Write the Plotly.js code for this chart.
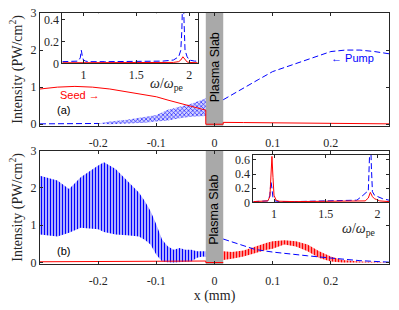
<!DOCTYPE html>
<html><head><meta charset="utf-8">
<script src="https://cdn.plot.ly/plotly-3.0.1.min.js"></script>
<style>html,body{margin:0;padding:0;background:#fff}#chart{width:399px;height:310px}</style>
</head><body><div id="chart"></div>
<script>
// ---------- panel (a) ----------
var seedA_x = [-0.3,-0.27,-0.24,-0.21,-0.18,-0.15,-0.12,-0.1,-0.08,-0.06,-0.04,-0.02,-0.015,-0.015,0.015,0.015,0.05,0.1,0.15,0.2,0.25,0.3];
var seedA_y = [0.95,1.0,1.02,1.0,0.95,0.87,0.8,0.74,0.65,0.56,0.47,0.4,0.38,0,0,0.05,0.045,0.035,0.03,0.02,0.015,0.01];
var pumpA_left_x = [-0.3,-0.25,-0.2];
var pumpA_left_y = [0.01,0.01,0.02];
var pumpA_right_x = [0.015,0.03,0.05,0.075,0.1,0.125,0.15,0.175,0.2,0.225,0.25,0.275,0.3];
var pumpA_right_y = [0.66,0.8,0.98,1.2,1.42,1.56,1.7,1.84,1.96,2.0,2.0,1.96,1.9];
var bandA_x  = [-0.2,-0.18,-0.15,-0.12,-0.1,-0.08,-0.06,-0.04,-0.02,-0.015];
var bandA_hi = [0.02,0.07,0.12,0.2,0.25,0.39,0.48,0.55,0.67,0.7];
var bandA_lo = [0.01,0.0,0.02,0.04,0.07,0.1,0.16,0.2,0.22,0.22];
// inset (a) spectrum
var specA_blue_x = [0.8,0.9,0.95,0.97,0.98,0.99,1.0,1.02,1.05,1.2,1.4,1.6,1.75,1.85,1.9,1.92,1.93,1.94,1.95,1.96,1.98,2.0,2.05,2.08];
var specA_blue_y = [0.015,0.015,0.02,0.05,0.12,0.06,0.03,0.02,0.015,0.015,0.015,0.015,0.02,0.03,0.06,0.12,0.3,0.7,0.35,0.12,0.06,0.03,0.02,0.02];
var specA_red_x = [0.8,1.2,1.6,1.85,1.9,1.92,1.94,1.96,1.98,2.0,2.08];
var specA_red_y = [0.005,0.005,0.005,0.008,0.015,0.03,0.06,0.03,0.012,0.008,0.005];

// ---------- panel (b) ----------
var seedB_left_x = [-0.3,-0.2,-0.1,-0.05,-0.015,-0.015,0.015];
var seedB_left_y = [0.02,0.02,0.02,0.03,0.04,0,0];
var bandBred_x  = [0.015,0.03,0.05,0.07,0.09,0.1,0.12,0.14,0.16,0.18,0.2,0.22,0.25,0.3];
var bandBred_hi = [0.3,0.28,0.32,0.43,0.53,0.57,0.6,0.57,0.48,0.3,0.16,0.07,0.03,0.01];
var bandBred_lo = [0.07,0.1,0.16,0.25,0.34,0.37,0.48,0.43,0.3,0.12,0.03,0.0,0.0,0.0];
var bandBblue_x  = [-0.3,-0.27,-0.25,-0.23,-0.2,-0.19,-0.17,-0.15,-0.13,-0.12,-0.11,-0.1,-0.09,-0.08,-0.07,-0.06,-0.05,-0.04,-0.03,-0.02,-0.015];
var bandBblue_hi = [2.33,2.2,1.97,2.29,2.6,2.69,2.51,2.2,1.88,1.65,1.38,1.02,0.61,0.43,0.34,0.39,0.34,0.34,0.3,0.3,0.3];
var bandBblue_lo = [0.75,0.7,0.8,0.93,0.89,0.82,0.75,0.73,0.7,0.61,0.48,0.21,0.03,0.01,0.0,0.0,0.02,0.03,0.13,0.16,0.15];
var pumpB_right_x = [0.015,0.03,0.05,0.07,0.1,0.13,0.16,0.2,0.25,0.3];
var pumpB_right_y = [0.63,0.55,0.45,0.35,0.28,0.24,0.18,0.12,0.05,0.01];
// inset (b) spectrum
var specB_red_x = [0.8,0.9,0.94,0.96,0.97,0.98,0.99,1.0,1.02,1.05,1.2,1.5,1.8,1.88,1.91,1.93,1.95,1.97,1.99,2.02,2.11];
var specB_red_y = [0.01,0.01,0.02,0.08,0.3,0.65,0.35,0.1,0.03,0.015,0.01,0.01,0.01,0.02,0.06,0.14,0.08,0.05,0.04,0.02,0.01];
var specB_blue_x = [0.8,0.9,0.94,0.96,0.97,0.98,0.99,1.01,1.05,1.2,1.5,1.7,1.8,1.86,1.89,1.91,1.92,1.93,1.94,1.95,1.97,2.0,2.05,2.11];
var specB_blue_y = [0.01,0.01,0.02,0.1,0.3,0.2,0.06,0.02,0.01,0.01,0.015,0.02,0.03,0.1,0.14,0.15,0.5,1.0,0.5,0.15,0.1,0.08,0.05,0.03];

var xTicks = [-0.2,-0.1,0,0.1,0.2];
var xTickText = ['-0.2','-0.1','0','0.1','0.2'];
var yTicks = [0,1,2,3];
var insetXTicks = [1,1.5,2];
var insetAYTicks = [0,0.2,0.4];
var insetBYTicks = [0,0.2,0.4,0.6];

var RED = '#ff0000', BLUE = '#0000ff';
var DASH = '6px,3px';
function band(x, hi, lo, xa, ya, fg, bg, shape, size, sol) {
  return {x: x.concat(x.slice().reverse()), y: hi.concat(lo.slice().reverse()),
    xaxis: xa, yaxis: ya, type: 'scatter', mode: 'lines', fill: 'toself',
    line: {width: 0, color: fg}, fillcolor: bg,
    fillpattern: {shape: shape, fgcolor: fg, bgcolor: bg, size: size, solidity: sol},
    hoverinfo: 'skip', showlegend: false};
}
function line(x, y, xa, ya, color, dash) {
  return {x: x, y: y, xaxis: xa, yaxis: ya, type: 'scatter', mode: 'lines',
    line: {color: color, width: 1, dash: dash || 'solid'}, showlegend: false};
}

var data = [
  band(bandA_x, bandA_hi, bandA_lo, 'x', 'y', '#0000ff', 'rgba(130,130,255,0.35)', 'x', 3, 0.35),
  line(pumpA_left_x, pumpA_left_y, 'x', 'y', BLUE, DASH),
  line(pumpA_right_x, pumpA_right_y, 'x', 'y', BLUE, DASH),
  line(seedA_x, seedA_y, 'x', 'y', RED),
  line(specA_blue_x, specA_blue_y, 'x3', 'y3', BLUE, DASH),
  line(specA_red_x, specA_red_y, 'x3', 'y3', RED),

  band(bandBblue_x, bandBblue_hi, bandBblue_lo, 'x2', 'y2', '#0000ff', 'rgba(140,140,255,0.4)', '|', 3, 0.45),
  band(bandBred_x, bandBred_hi, bandBred_lo, 'x2', 'y2', '#ff0000', 'rgba(255,120,120,0.5)', '|', 3, 0.5),
  line(seedB_left_x, seedB_left_y, 'x2', 'y2', RED),
  line(pumpB_right_x, pumpB_right_y, 'x2', 'y2', BLUE, DASH),
  line(specB_blue_x, specB_blue_y, 'x4', 'y4', BLUE, DASH),
  line(specB_red_x, specB_red_y, 'x4', 'y4', RED),
  // empty traces that just register the inside-tick overlay axes
  {x: [], y: [], xaxis: 'x5', yaxis: 'y', type: 'scatter', mode: 'lines', showlegend: false},
  {x: [], y: [], xaxis: 'x6', yaxis: 'y2', type: 'scatter', mode: 'lines', showlegend: false}
];

var serif = '"Liberation Serif", "Times New Roman", serif';
var sans = '"Liberation Sans", Arial, sans-serif';
var INK = '#262626';
var axBase = {showline: true, linecolor: INK, linewidth: 1, mirror: 'ticks',
  ticks: 'inside', ticklen: 3, tickcolor: INK, showgrid: false, zeroline: false,
  tickfont: {family: serif, size: 12, color: INK}, fixedrange: true};
function ax(o) { return Object.assign({}, axBase, o); }
var ytitle = {text: 'Intensity (PW/cm<sup>2</sup>)', font: {family: serif, size: 14, color: INK}, standoff: 4};
// main x axes: labels pushed down by transparent outside ticks; inside ticks come from overlays
function mainX(o) {
  return ax(Object.assign({ticks: 'outside', ticklen: 6, tickcolor: 'rgba(0,0,0,0)', mirror: true,
    range: [-0.3, 0.3], tickvals: xTicks, ticktext: xTickText}, o));
}
function tickX(o) {
  return ax(Object.assign({range: [-0.3, 0.3], tickvals: xTicks, showticklabels: false}, o));
}

var layout = {
  width: 399, height: 310,
  margin: {l: 40, r: 10, t: 13, b: 46},
  paper_bgcolor: '#fff', plot_bgcolor: '#fff', showlegend: false,
  xaxis: mainX({domain: [0, 1], anchor: 'y'}),
  xaxis5: tickX({overlaying: 'x', anchor: 'y'}),
  yaxis: ax({domain: [0.551, 1], anchor: 'x', range: [-0.04, 3], tickvals: yTicks, title: ytitle}),
  xaxis2: mainX({domain: [0, 1], anchor: 'y2',
    title: {text: 'x (mm)', font: {family: serif, size: 14, color: INK}, standoff: 2}}),
  xaxis6: tickX({overlaying: 'x2', anchor: 'y2'}),
  yaxis2: ax({domain: [0, 0.4514], anchor: 'x2', range: [-0.04, 3], tickvals: yTicks, title: ytitle}),
  xaxis3: ax({domain: [0.0639, 0.4519], anchor: 'y3', range: [0.8, 2.08], tickvals: insetXTicks}),
  yaxis3: ax({domain: [0.7996, 0.999], anchor: 'x3', range: [0, 0.46], tickvals: insetAYTicks}),
  xaxis4: ax({domain: [0.6112, 1], anchor: 'y4', range: [0.8, 2.11], tickvals: insetXTicks}),
  yaxis4: ax({domain: [0.2458, 0.4343], anchor: 'x4', range: [0, 0.67], tickvals: insetBYTicks}),
  shapes: [
    {type: 'rect', xref: 'x', yref: 'y domain', x0: -0.015, x1: 0.015, y0: 0, y1: 1, fillcolor: '#a9a9a9', line: {width: 0}, layer: 'below'},
    {type: 'rect', xref: 'x2', yref: 'y2 domain', x0: -0.015, x1: 0.015, y0: 0, y1: 1, fillcolor: '#a9a9a9', line: {width: 0}, layer: 'below'}
  ],
  annotations: [
    {xref: 'x', yref: 'y', x: 0, y: 1.52, text: 'Plasma Slab', textangle: -90, showarrow: false, font: {family: sans, size: 12.5, color: '#000'}},
    {xref: 'x2', yref: 'y2', x: 0, y: 1.4, text: 'Plasma Slab', textangle: -90, showarrow: false, font: {family: sans, size: 12.5, color: '#000'}},
    {xref: 'x', yref: 'y', x: -0.2305, y: 0.79, text: 'Seed \u2192', showarrow: false, font: {family: sans, size: 11, color: RED}},
    {xref: 'x', yref: 'y', x: 0.237, y: 1.79, text: '\u2190 Pump', showarrow: false, font: {family: sans, size: 11, color: BLUE}},
    {xref: 'x', yref: 'y', x: -0.26, y: 0.386, text: '(a)', showarrow: false, font: {family: sans, size: 11, color: '#000'}},
    {xref: 'x2', yref: 'y2', x: -0.26, y: 0.32, text: '(b)', showarrow: false, font: {family: sans, size: 11, color: '#000'}},
    {xref: 'paper', yref: 'paper', x: 0.309, y: 0.715, xanchor: 'left', yanchor: 'middle', text: '<i>\u03c9</i>/<i>\u03c9</i><sub>pe</sub>', showarrow: false, font: {family: serif, size: 14, color: INK}},
    {xref: 'paper', yref: 'paper', x: 0.8596, y: 0.137, xanchor: 'left', yanchor: 'middle', text: '<i>\u03c9</i>/<i>\u03c9</i><sub>pe</sub>', showarrow: false, font: {family: serif, size: 14, color: INK}}
  ]
};
Plotly.newPlot('chart', data, layout, {staticPlot: true, displayModeBar: false});
</script>
</body></html>
